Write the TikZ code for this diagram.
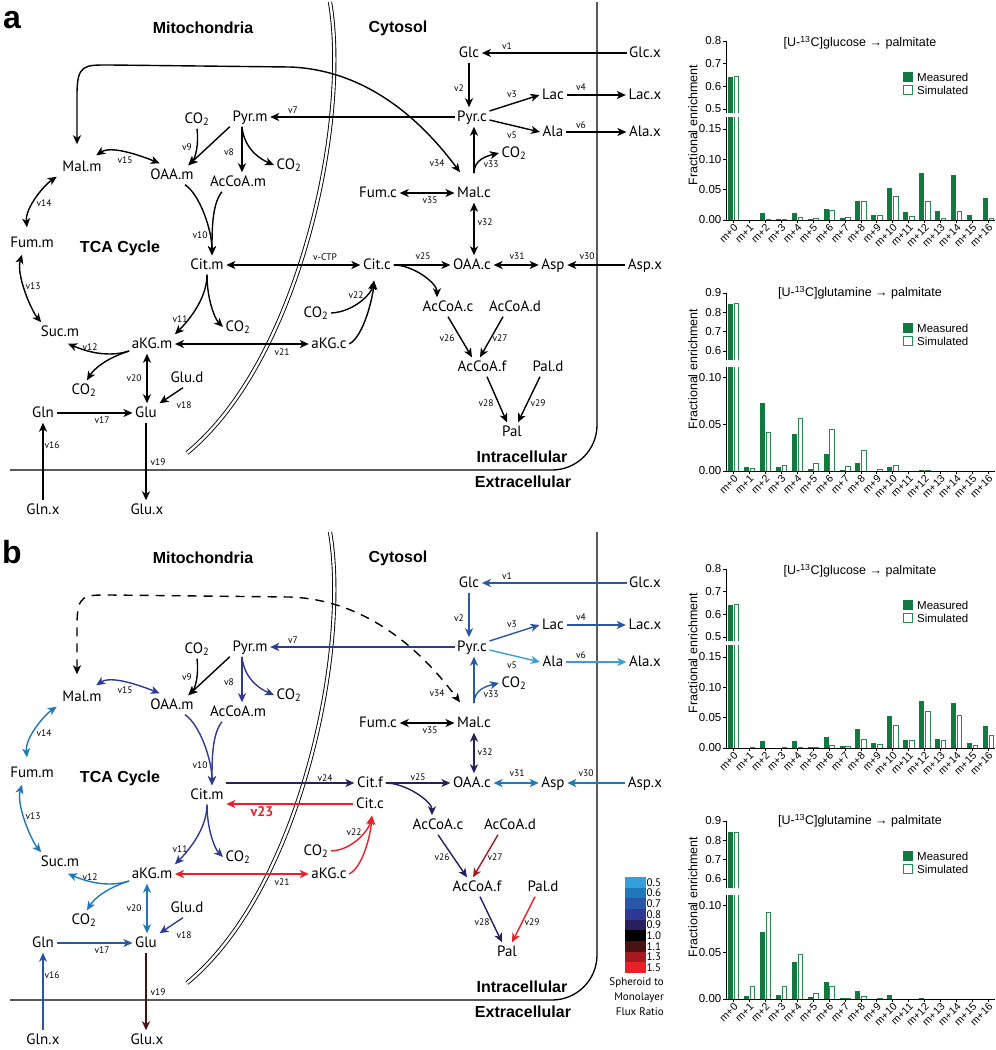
\documentclass[tikz,border=0pt]{standalone}
\usepackage{fontspec}
\setmainfont{PT Sans}
\newfontfamily\headfont{Liberation Sans}
\usetikzlibrary{arrows.meta,calc,positioning}

\definecolor{c05}{RGB}{52,160,219}
\definecolor{c06}{RGB}{30,120,185}
\definecolor{c07}{RGB}{40,86,168}
\definecolor{c08}{RGB}{44,58,150}
\definecolor{c09}{RGB}{38,32,96}
\definecolor{c10}{RGB}{0,0,0}
\definecolor{c11}{RGB}{72,18,18}
\definecolor{c13}{RGB}{165,26,32}
\definecolor{c15}{RGB}{232,32,40}
\definecolor{mgreen}{RGB}{18,122,62}
\definecolor{sgreen}{RGB}{40,140,80}

\tikzset{
  >={Stealth[length=9pt,width=8pt,inset=2.5pt]},
  flux/.style={line width=1.4pt,->},
  rev/.style={line width=1.4pt,<->},
  met/.style={font=\fontsize{15}{16}\selectfont, inner sep=2.5pt, text height=11pt, text depth=3pt},
  vlab/.style={font=\fontsize{9.5}{10}\selectfont, inner sep=0.5pt},
  comp/.style={font=\headfont\bfseries\fontsize{16}{18}\selectfont},
  letter/.style={font=\headfont\bfseries\fontsize{32}{32}\selectfont},
  r05/.style={}, r06/.style={}, r07/.style={}, r08/.style={}, r09/.style={},
  r10/.style={}, r11/.style={}, r13/.style={}, r15/.style={},
  ratiocolours/.style={r05/.style={color=c05}, r06/.style={color=c06},
    r07/.style={color=c07}, r08/.style={color=c08}, r09/.style={color=c09},
    r11/.style={color=c11}, r13/.style={color=c13}, r15/.style={color=c15}},
  shuttle/.style={},
  meas/.style={fill=mgreen},
  simu/.style={draw=sgreen, line width=0.8pt},
  axisline/.style={line width=0.8pt},
  tickfont/.style={font=\headfont\fontsize{11.5}{12}\selectfont, inner sep=1pt},
  titlefont/.style={font=\headfont\fontsize{12.5}{13}\selectfont, inner sep=1pt},
  xfont/.style={font=\headfont\fontsize{10.5}{11}\selectfont, inner sep=0pt},
  labfont/.style={font=\headfont\fontsize{12.5}{13}\selectfont},
  legfont/.style={font=\fontsize{11}{15}\selectfont, inner sep=0pt},
}

% network shared by both panels
\newcommand{\cellmap}{%
  \draw[line width=1.3pt, rounded corners=45pt] (597,2) -- (597,470) -- (10,470);
  \draw[line width=0.9pt, double, double distance=2.4pt] (330,2) .. controls (350,120) and (300,360) .. (187,453);
  \node[comp] (mito) at (203,28) {Mitochondria};
  \node[comp] (cyto) at (398,28) {Cytosol};
  \node[comp] (tca) at (120,248) {TCA Cycle};
  \node[comp] (intra) at (522,457) {Intracellular};
  \node[comp] (extra) at (523,482) {Extracellular};
  \node[met] (Glc) at (469,53) {Glc};
  \node[met] (Glcx) at (645,53) {Glc.x};
  \node[met] (Pyrc) at (472,117) {Pyr.c};
  \node[met] (Lac) at (553,95) {Lac};
  \node[met] (Lacx) at (645,95) {Lac.x};
  \node[met] (Ala) at (553,132) {Ala};
  \node[met] (Alax) at (645,132) {Ala.x};
  \node[met] (co2g) at (514,153) {CO\textsubscript{2}};
  \node[met] (Malc) at (474,193) {Mal.c};
  \node[met] (Fumc) at (378,193) {Fum.c};
  \node[met] (Pyrm) at (250,117) {Pyr.m};
  \node[met] (co2a) at (197,119) {CO\textsubscript{2}};
  \node[met] (co2b) at (289,165) {CO\textsubscript{2}};
  \node[met] (AcCoAm) at (238,182) {AcCoA.m};
  \node[met] (OAAm) at (172,175) {OAA.m};
  \node[met] (Malm) at (82,167) {Mal.m};
  \node[met] (Fumm) at (32,243) {Fum.m};
  \node[met] (Citm) at (207,265) {Cit.m};
  \node[met] (Sucm) at (60,332) {Suc.m};
  \node[met] (aKGm) at (152,344) {aKG.m};
  \node[met] (co2c) at (238,327) {CO\textsubscript{2}};
  \node[met] (co2d) at (84,390) {CO\textsubscript{2}};
  \node[met] (Glud) at (187,378) {Glu.d};
  \node[met] (Glu) at (146,413) {Glu};
  \node[met] (Gln) at (43,413) {Gln};
  \node[met] (Glnx) at (43,510) {Gln.x};
  \node[met] (Glux) at (147,510) {Glu.x};
  \node[met] (aKGc) at (329,344) {aKG.c};
  \foreach \vn/\vx/\vy in {1/507/46, 2/459/88, 3/512/94, 4/581/87, 5/512/135, 6/581/125,
      33/491/164, 34/437/163, 35/430/200, 7/293/110, 9/187/147, 8/229/152, 15/125/160,
      14/44/203, 10/200/235, 13/33/286, 11/180/319, 12/90/347, 20/134/378, 18/184/405,
      17/102/420, 16/52/445, 19/158/462, 21/282/352, 32/485/222}
    \node[vlab] (v\vn) at (\vx,\vy) {v\vn};
  % glycolysis, exchange
  \draw[flux,r07] (Glcx) -- (Glc);
  \draw[flux,r07] (Glc) -- (Glc |- Pyrc.north);
  \draw[flux,r07] ([yshift=6pt]Pyrc.east) -- (Lac.west);
  \draw[flux,r07] (Lac) -- (Lacx);
  \draw[flux,r05] ([yshift=-3pt]Pyrc.east) -- (Ala.west);
  \draw[flux,r05] (Ala) -- (Alax);
  \draw[flux,r07] ([yshift=10pt]Malc.north) -- (Malc |- Pyrc.south);
  \draw[flux,r07] ([yshift=10pt]Malc.north) .. controls +(0,-14) and +(-12,3) .. (co2g.west);
  \draw[rev,r10] (Fumc) -- (Malc);
  \draw[rev,shuttle] ($(Malm.north)+(-5,-13)$) -- (77,95) .. controls (77,64) and (84,65) .. (110,65)
    -- (290,67) .. controls (370,70) and (425,125) .. ($(Malc.north)+(-14,-11)$);
  % mitochondria
  \draw[flux,r08] (Pyrc) -- (Pyrm);
  \draw[flux,r10] (Pyrm.south west) -- ($(OAAm.north east)+(-8,0)$);
  \draw[flux,r10] (co2a.south) .. controls +(2,16) and +(7,-7) .. ($(OAAm.north east)+(-8,0)$);
  \draw[flux,r08] ($(Pyrm.south)+(-8,0)$) -- ($(AcCoAm.north)+(4,0)$);
  \draw[flux,r08] ($(Pyrm.south)+(-8,0)$) .. controls +(2,22) and +(-14,-6) .. (co2b.west);
  \draw[flux,r08] ($(OAAm.south)+(13,0)$) .. controls +(15,10) and +(0,-25) .. ($(Citm.north)+(5,0)$);
  \draw[flux,r08] ($(AcCoAm.south)+(-16,0)$) .. controls +(-10,12) and +(0,-25) .. ($(Citm.north)+(5,0)$);
  \draw[flux,r08] (Citm.south) .. controls +(0,25) and +(12,-12) .. (aKGm.north east);
  \draw[flux,r08] (Citm.south) .. controls +(0,25) and +(-8,-8) .. (co2c.west);
  \draw[flux,r06] ($(aKGm.west)+(0,7)$) .. controls +(-25,8) and +(12,5) .. ($(Sucm.south)+(8,2)$);
  \draw[flux,r06] ($(aKGm.west)+(0,7)$) .. controls +(-25,8) and +(6,-10) .. ($(co2d.north)+(3,0)$);
  \draw[rev,r06] ($(Fumm.south)+(-10,2)$) .. controls +(-6,20) and +(-10,-12) .. ($(Sucm.north west)+(3,0)$);
  \draw[rev,r06] ($(Fumm.north)+(-5,-6)$) .. controls +(-2,-20) and +(-12,8) .. ($(Malm.south west)+(-3,0)$);
  \draw[rev,r08] ($(Malm.north east)+(-8,-2)$) .. controls +(15,-10) and +(-20,-8) .. ($(OAAm.north west)+(12,-2)$);
  \draw[flux,r07] (Gln) -- (Glu);
  \draw[flux,r07] (Glnx) -- (Gln);
  \draw[flux,r08] ($(Glud.south)+(-4,0)$) -- (Glu.north east);
  \draw[flux,r11] (Glu) -- (Glu |- Glux.north);
  \draw[rev,r06] ($(aKGm.south)+(-5,0)$) -- ($(Glu.north)+(1,0)$);
  \draw[rev,r15] (aKGm) -- (aKGc);
}

% bar chart parts
\newcommand{\mbars}[2]{%
  \foreach \i/\mv/\sv in {#2} {
    \fill[meas] ({2+15.93*\i},0) rectangle ({7+15.93*\i},{#1*\mv});
    \draw[simu] ({8.2+15.93*\i},0) rectangle ({12.8+15.93*\i},{#1*\sv});
  }}
\newcommand{\xaxis}{%
  \draw[axisline] (0,0) -- (269,0);
  \foreach \i in {0,...,16} {
    \draw[axisline] ({7.5+15.93*\i},0) -- ++(0,-3);
    \node[xfont, rotate=45, anchor=east] (xt\i) at ({10+15.93*\i},-6) {m+\i};
  }
  \fill[meas] (177,138) rectangle (187,148);
  \node[tickfont, anchor=west] (lm) at (190,143) {Measured};
  \draw[simu] (177.5,125.5) rectangle (186.5,134.5);
  \node[tickfont, anchor=west] (ls) at (190,130) {Simulated};
}
\newcommand{\glczero}[2]{%
  \fill[meas] (2,0) rectangle (7,103);
  \fill[meas] (2,107) rectangle (7,{111+(#1-0.5)*226.7});
  \draw[simu] (8.2,103) -- (8.2,0) -- (12.8,0) -- (12.8,103);
  \draw[simu] (8.2,107) -- (8.2,{111+(#2-0.5)*226.7}) -- (12.8,{111+(#2-0.5)*226.7}) -- (12.8,107);
}
\newcommand{\glnzero}[2]{%
  \fill[meas] (2,0) rectangle (7,104);
  \fill[meas] (2,111) rectangle (7,{120+(#1-0.6)*193});
  \draw[simu] (8.2,104) -- (8.2,0) -- (12.8,0) -- (12.8,104);
  \draw[simu] (8.2,111) -- (8.2,{120+(#2-0.6)*193}) -- (12.8,{120+(#2-0.6)*193}) -- (12.8,111);
}
\newcommand{\glcaxes}{%
  \draw[axisline] (0,0) -- (0,103);
  \draw[axisline] (0,107) -- (0,179);
  \foreach \v/\lab [count=\n] in {0/0.00,30.33/0.05,60.67/0.10,91/0.15,111/0.5,133.67/0.6,156.33/0.7,179/0.8} {
    \draw[axisline] (0,\v) -- (-3,\v);
    \node[tickfont, anchor=east] (yt\n) at (-3.5,\v) {\lab};
  }
  \node[labfont, rotate=90] (ylab) at (-33,95) {Fractional enrichment};
  \node[titlefont] (title) at (134,177) {[U-\textsuperscript{13}C]glucose → palmitate};
  \xaxis
}
\newcommand{\glnaxes}{%
  \draw[axisline] (0,0) -- (0,104);
  \draw[axisline] (0,111) -- (0,178);
  \foreach \v/\lab [count=\n] in {0/0.00,46.67/0.05,93.33/0.10,120/0.6,139.3/0.7,158.7/0.8,178/0.9} {
    \draw[axisline] (0,\v) -- (-3,\v);
    \node[tickfont, anchor=east] (yt\n) at (-3.5,\v) {\lab};
  }
  \node[labfont, rotate=90] (ylab) at (-33,102) {Fractional enrichment};
  \node[titlefont] (title) at (134,178) {[U-\textsuperscript{13}C]glutamine → palmitate};
  \xaxis
}

\begin{document}
\begin{tikzpicture}[x=1pt,y=-1pt]
\useasboundingbox (0,0) rectangle (996,1050);

% panel a
\begin{scope}[name prefix=a-]
  \node[letter] (lab) at (12,20) {a};
  \cellmap
  \node[met] (Citc) at (377,265) {Cit.c};
  \node[met] (OAAc) at (472,265) {OAA.c};
  \node[met] (Asp) at (553,265) {Asp};
  \node[met] (Aspx) at (645,265) {Asp.x};
  \node[met] (AcCoAc) at (448,307) {AcCoA.c};
  \node[met] (AcCoAd) at (515,307) {AcCoA.d};
  \node[met] (AcCoAf) at (482,367) {AcCoA.f};
  \node[met] (Pald) at (548,367) {Pal.d};
  \node[met] (Pal) at (512,432) {Pal};
  \node[met] (co2e) at (316,313) {CO\textsubscript{2}};
  \node[vlab] (vctp) at (325,257) {v-CTP};
  \foreach \vn/\vx/\vy in {25/423/256, 31/517/256, 30/587/256, 22/356/295, 26/447/338,
      27/500/338, 28/486/403, 29/538/403}
    \node[vlab] (v\vn) at (\vx,\vy) {v\vn};
  \draw[rev] (Citm) -- (Citc);
  \draw[flux] (Citc) -- (OAAc);
  \draw[flux] (Citc.east) .. controls +(20,0) and +(0,-14) .. ($(AcCoAc.north)+(-11,0)$);
  \draw[rev] (OAAc) -- (Asp);
  \draw[flux] (Aspx) -- (Asp);
  \draw[rev] (Malc.south) -- (Malc.south |- OAAc.north);
  \draw[flux] (co2e.east) .. controls +(22,-1) and +(-3,14) .. ($(Citc.south)+(-3,6)$);
  \draw[flux] (aKGc.east) .. controls +(15,-8) and +(-1,15) .. ($(Citc.south)+(-3,6)$);
  \draw[flux] (AcCoAc.south) -- ($(AcCoAf.north)+(-10,0)$);
  \draw[flux] ($(AcCoAd.south)+(-12,0)$) -- ($(AcCoAf.north)+(-2,0)$);
  \draw[flux] ($(AcCoAf.south)+(5,0)$) -- ($(Pal.north)+(-5,0)$);
  \draw[flux] ($(Pald.south)+(-8,0)$) -- ($(Pal.north)+(6,0)$);
\end{scope}

% panel b
\begin{scope}[shift={(0,530)}, name prefix=b-, ratiocolours,
    shuttle/.style={dash pattern=on 9pt off 7pt}]
  \node[letter] (lab) at (12,22) {b};
  \cellmap
  \node[met] (Citf) at (370,253) {Cit.f};
  \node[met] (Citc) at (370,274) {Cit.c};
  \node[met] (OAAc) at (472,253) {OAA.c};
  \node[met] (Asp) at (553,253) {Asp};
  \node[met] (Aspx) at (645,253) {Asp.x};
  \node[met] (AcCoAc) at (438,295) {AcCoA.c};
  \node[met] (AcCoAd) at (510,295) {AcCoA.d};
  \node[met] (AcCoAf) at (477,357) {AcCoA.f};
  \node[met] (Pald) at (543,357) {Pal.d};
  \node[met] (Pal) at (507,422) {Pal};
  \node[met] (co2e) at (316,321) {CO\textsubscript{2}};
  \foreach \vn/\vx/\vy in {24/325/248, 25/418/247, 31/517/243, 30/586/243, 22/354/302,
      26/442/327, 27/495/327, 28/482/392, 29/532/392}
    \node[vlab] (v\vn) at (\vx,\vy) {v\vn};
  \node[font=\bfseries\fontsize{14}{14}\selectfont, text=c15] (v23) at (262,282) {v23};
  \draw[flux,r09] (Citm.east |- Citf) -- (Citf);
  \draw[flux,r15] (Citc) -- (Citm.east |- Citc);
  \draw[flux,r09] (Citf) -- (OAAc);
  \draw[flux,r09] (Citf.east) .. controls +(20,0) and +(0,-14) .. ($(AcCoAc.north)+(-6,0)$);
  \draw[rev,r06] (OAAc) -- (Asp);
  \draw[flux,r06] (Aspx) -- (Asp);
  \draw[rev,r09] (Malc.south) -- (Malc.south |- OAAc.north);
  \draw[flux,r15] (co2e.east) .. controls +(22,-1) and +(-3,14) .. ($(Citc.south)+(2,2)$);
  \draw[flux,r15] (aKGc.east) .. controls +(15,-8) and +(-1,15) .. ($(Citc.south)+(2,2)$);
  \draw[flux,r09] (AcCoAc.south) -- ($(AcCoAf.north)+(-10,0)$);
  \draw[flux,r13] ($(AcCoAd.south)+(-12,0)$) -- ($(AcCoAf.north)+(-4,0)$);
  \draw[flux,r09] ($(AcCoAf.south)+(3,0)$) -- ($(Pal.north)+(-5,0)$);
  \draw[flux,r15] ($(Pald.south)+(-8,0)$) -- ($(Pal.north)+(5,0)$);
  % ratio colour key
  \foreach \k/\c/\lab in {0/c05/0.5, 1/c06/0.6, 2/c07/0.7, 3/c08/0.8, 4/c09/0.9,
      5/c10/1.0, 6/c11/1.1, 7/c13/1.3, 8/c15/1.5} {
    \fill[\c] (625,{347+10.67*\k}) rectangle (646,{357.67+10.67*\k});
    \node[legfont, anchor=west] (key\k) at (646.5,{352.3+10.67*\k}) {\lab};
  }
  \node[legfont, anchor=east, align=right] (keytext) at (664,467) {Spheroid to\\Monolayer\\Flux Ratio};
\end{scope}

% enrichment charts
\begin{scope}[shift={(726,220)}, y=1pt, name prefix=ga-]
  \glczero{0.64}{0.645}
  \mbars{606.7}{1/0/0, 2/0.012/0.001, 3/0.001/0.001, 4/0.012/0.005, 5/0.002/0.002,
    6/0.018/0.016, 7/0.004/0.004, 8/0.031/0.031, 9/0.009/0.007, 10/0.053/0.039,
    11/0.013/0.006, 12/0.077/0.031, 13/0.015/0.003, 14/0.075/0.014, 15/0.008/0, 16/0.036/0.003}
  \glcaxes
\end{scope}
\begin{scope}[shift={(726,471)}, y=1pt, name prefix=qa-]
  \glnzero{0.845}{0.845}
  \mbars{933.3}{1/0.004/0.0025, 2/0.0725/0.041, 3/0.0046/0.0064, 4/0.040/0.056,
    5/0.0025/0.008, 6/0.018/0.0446, 7/0.001/0.005, 8/0.009/0.022, 9/0.0003/0.002,
    10/0.0043/0.0064, 11/0/0, 12/0.001/0.001, 13/0/0, 14/0/0, 15/0/0, 16/0/0}
  \glnaxes
\end{scope}
\begin{scope}[shift={(726,748)}, y=1pt, name prefix=gb-]
  \glczero{0.64}{0.645}
  \mbars{606.7}{1/0/0.001, 2/0.012/0, 3/0/0.001, 4/0.012/0.001, 5/0.002/0.001,
    6/0.018/0.004, 7/0.004/0.002, 8/0.031/0.015, 9/0.009/0.006, 10/0.053/0.038,
    11/0.013/0.012, 12/0.077/0.06, 13/0.015/0.013, 14/0.075/0.054, 15/0.008/0.005, 16/0.036/0.021}
  \glcaxes
\end{scope}
\begin{scope}[shift={(726,999)}, y=1pt, name prefix=qb-]
  \glnzero{0.845}{0.84}
  \mbars{933.3}{1/0.0036/0.013, 2/0.072/0.093, 3/0.0046/0.0136, 4/0.040/0.048,
    5/0.002/0.0064, 6/0.018/0.014, 7/0.001/0.001, 8/0.009/0.0025, 9/0/0.0005,
    10/0.0046/0, 11/0/0, 12/0.001/0, 13/0/0, 14/0/0, 15/0/0, 16/0/0}
  \glnaxes
\end{scope}
\end{tikzpicture}
\end{document}
